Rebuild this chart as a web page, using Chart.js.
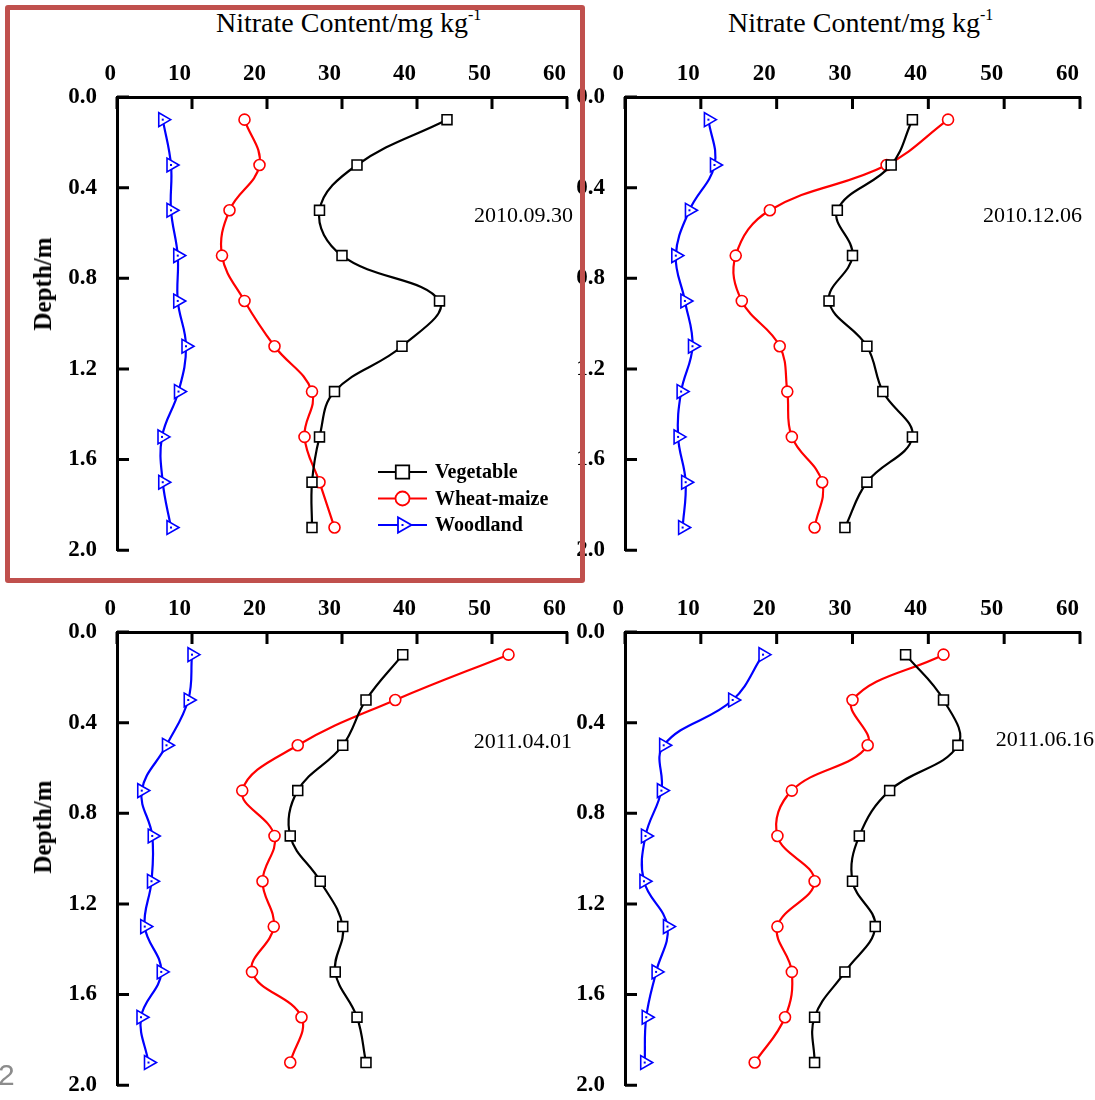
<!DOCTYPE html>
<html>
<head>
<meta charset="utf-8">
<script src="https://cdn.jsdelivr.net/npm/chart.js@4.4.1/dist/chart.umd.min.js"></script>
<style>
  html, body { margin: 0; padding: 0; background: #fff; overflow: hidden; }
  #page { position: relative; width: 1095px; height: 1100px; overflow: hidden; font-family: "Liberation Serif", "Times New Roman", serif; color: #000; }
  canvas { position: absolute; }
  .title { position: absolute; font-size: 28px; line-height: 28px; white-space: nowrap; }
  .title sup { font-size: 16px; vertical-align: 12px; line-height: 0; }
  .date { position: absolute; font-size: 22px; line-height: 22px; white-space: nowrap; text-align: right; }
  .ylab { position: absolute; font-size: 25px; font-weight: bold; white-space: nowrap; transform: translate(-50%, -50%) rotate(-90deg); }
  #frame { position: absolute; left: 5px; top: 5px; width: 570px; height: 568px; border: 5px solid #c0504d; border-radius: 3px; pointer-events: none; }
  #pageNo { position: absolute; left: -2px; top: 1060px; font-family: "Liberation Sans", Arial, sans-serif; font-size: 30px; line-height: 30px; color: #8c8c8c; }
</style>
</head>
<body>
<div id="page">
  <canvas id="p1" width="582" height="537" style="left:0px;top:47px"></canvas>
  <canvas id="p2" width="587" height="537" style="left:508px;top:47px"></canvas>
  <canvas id="p3" width="582" height="537" style="left:0px;top:582px"></canvas>
  <canvas id="p4" width="587" height="537" style="left:508px;top:582px"></canvas>

  <div class="title" style="left:216px;top:9px">Nitrate Content/mg kg<sup>-1</sup></div>
  <div class="title" style="left:728px;top:9px">Nitrate Content/mg kg<sup>-1</sup></div>

  <div class="ylab" style="left:43px;top:284px">Depth/m</div>
  <div class="ylab" style="left:43px;top:827px">Depth/m</div>

  <div class="date" id="d1" style="right:522px;top:204px"></div>
  <div class="date" id="d2" style="right:13px;top:204px"></div>
  <div class="date" id="d3" style="right:523px;top:730px"></div>
  <div class="date" id="d4" style="right:1px;top:728px"></div>

  <div id="frame"></div>
  <div id="pageNo">2</div>
</div>

<script>
// depth of each sample (m) and axis ticks
const depths = [0.1, 0.3, 0.5, 0.7, 0.9, 1.1, 1.3, 1.5, 1.7, 1.9];
const depthTicks = [0, 0.4, 0.8, 1.2, 1.6, 2.0];
const contentTicks = [0, 10, 20, 30, 40, 50, 60];
const landUses = ['Vegetable', 'Wheat-maize', 'Woodland'];
const dates = ['2010.09.30', '2010.12.06', '2011.04.01', '2011.06.16'];

// nitrate content, mg/kg
const veg1 = [44, 32, 27, 30, 43, 38, 29, 27, 26, 26];
const wheat1 = [17, 19, 15, 14, 17, 21, 26, 25, 27, 29];
const wood1 = [6.1, 7.2, 7.2, 8.1, 8.1, 9.2, 8.2, 6.0, 6.1, 7.2];

const veg2 = [37.9, 35.1, 28.0, 30.0, 26.9, 31.9, 34.0, 37.9, 31.9, 29.0];
const wheat2 = [42.6, 34.5, 19.1, 14.6, 15.4, 20.4, 21.4, 22.0, 26.0, 25.0];
const wood2 = [11.0, 11.8, 8.5, 6.7, 7.9, 8.9, 7.4, 7.0, 8.0, 7.6];

const veg3 = [38.1, 33.2, 30.1, 24.1, 23.1, 27.1, 30.1, 29.1, 32.0, 33.2];
const wheat3 = [52.2, 37.1, 24.1, 16.7, 21.0, 19.4, 20.9, 18.0, 24.6, 23.1];
const wood3 = [10.0, 9.5, 6.6, 3.3, 4.7, 4.6, 3.7, 5.9, 3.2, 4.2];

const veg4 = [37.0, 42.0, 43.9, 34.9, 30.9, 30.0, 33.0, 29.0, 25.0, 25.0];
const wheat4 = [42.0, 30.0, 32.0, 22.0, 20.1, 25.0, 20.1, 22.0, 21.1, 17.1];
const wood4 = [18.2, 14.2, 5.1, 4.8, 2.7, 2.5, 5.6, 4.1, 2.8, 2.6];

const serif = '"Liberation Serif", "Times New Roman", serif';
const colors = ['#000000', '#ff0000', '#0000ff'];
const styles = ['rect', 'circle', 'triangle'];
const radii = [7, 5.5, 8];
const rotations = [0, 0, 90];

// ticks pointing into the plot area
const innerTicks = {
    id: 'innerTicks',
    afterDraw(chart) {
        const {ctx, chartArea, scales} = chart;
        ctx.save();
        ctx.strokeStyle = '#000';
        ctx.lineWidth = 3;
        ctx.beginPath();
        scales.x.ticks.forEach((t, i) => {
            const p = scales.x.getPixelForTick(i);
            ctx.moveTo(p, chartArea.top);
            ctx.lineTo(p, chartArea.top + 12);
        });
        scales.y.ticks.forEach((t, i) => {
            const p = scales.y.getPixelForTick(i);
            ctx.moveTo(chartArea.left, p);
            ctx.lineTo(chartArea.left + 12, p);
        });
        ctx.stroke();
        ctx.restore();
    }
};

// small dot inside each triangle marker
const triangleDots = {
    id: 'triangleDots',
    afterDatasetsDraw(chart) {
        const {ctx} = chart;
        ctx.save();
        chart.data.datasets.forEach((ds, i) => {
            if (ds.pointStyle !== 'triangle') return;
            ctx.fillStyle = ds.borderColor;
            chart.getDatasetMeta(i).data.forEach(pt => {
                ctx.fillRect(pt.x - 1, pt.y - 1, 2, 2);
            });
        });
        ctx.restore();
    }
};

// legend with line + marker, like the original
const lineLegend = {
    id: 'lineLegend',
    afterDatasetsDraw(chart, args, opts) {
        if (!opts.show) return;
        const {ctx, chartArea} = chart;
        const x0 = chartArea.left + opts.left;
        ctx.save();
        chart.data.datasets.forEach((ds, i) => {
            const y = chartArea.top + opts.top + i * opts.gap;
            const cx = x0 + opts.len / 2;
            ctx.strokeStyle = ds.borderColor;
            ctx.lineWidth = 2;
            ctx.beginPath();
            ctx.moveTo(x0, y);
            ctx.lineTo(x0 + opts.len, y);
            ctx.stroke();
            ctx.fillStyle = '#fff';
            ctx.lineWidth = 1.8;
            Chart.helpers.drawPoint(ctx, {
                pointStyle: ds.pointStyle,
                rotation: ds.pointRotation,
                radius: opts.radii[i],
                borderWidth: 1.8
            }, cx, y);
            if (ds.pointStyle === 'triangle') {
                ctx.fillStyle = ds.borderColor;
                ctx.fillRect(cx - 1, y - 1, 2, 2);
            }
            ctx.fillStyle = '#000';
            ctx.font = 'bold 20px ' + serif;
            ctx.textBaseline = 'middle';
            ctx.fillText(ds.label, x0 + opts.len + 8, y + 1);
        });
        ctx.restore();
    }
};

function makePanel(id, series, showLegend) {
    const datasets = series.map((vals, i) => ({
        label: landUses[i],
        data: vals.map((v, k) => ({x: v, y: depths[k]})),
        showLine: true,
        borderColor: colors[i],
        borderWidth: 2.2,
        tension: 0.4,
        pointStyle: styles[i],
        pointRadius: radii[i],
        pointRotation: rotations[i],
        pointBackgroundColor: '#fff',
        pointBorderColor: colors[i],
        pointBorderWidth: 1.6
    }));

    return new Chart(document.getElementById(id), {
        type: 'scatter',
        data: {datasets},
        options: {
            responsive: false,
            animation: false,
            layout: {padding: {top: 0, left: 0, right: 15, bottom: 16}},
            plugins: {
                legend: {display: false},
                tooltip: {enabled: false},
                lineLegend: {show: showLegend, left: 261, top: 375, gap: 26.5, len: 49, radii: [9.5, 7, 9]}
            },
            scales: {
                x: {
                    type: 'linear',
                    position: 'top',
                    min: contentTicks[0],
                    max: contentTicks[contentTicks.length - 1],
                    afterFit: s => { s.height = 50; },
                    grid: {display: false, drawTicks: false},
                    border: {display: true, width: 3, color: '#000'},
                    ticks: {
                        stepSize: contentTicks[1] - contentTicks[0],
                        align: 'end',
                        labelOffset: -1,
                        padding: 9,
                        color: '#000',
                        font: {family: serif, size: 23, weight: 'bold'}
                    }
                },
                y: {
                    type: 'linear',
                    reverse: true,
                    min: depthTicks[0],
                    max: depthTicks[depthTicks.length - 1],
                    afterFit: s => { s.width = 117; },
                    grid: {display: false, drawTicks: false},
                    border: {display: true, width: 3, color: '#000'},
                    ticks: {
                        stepSize: depthTicks[1] - depthTicks[0],
                        padding: 20,
                        color: '#000',
                        font: {family: serif, size: 23, weight: 'bold'},
                        callback: v => Number(v).toFixed(1)
                    }
                }
            }
        },
        plugins: [innerTicks, triangleDots, lineLegend]
    });
}

document.addEventListener('DOMContentLoaded', () => {
    makePanel('p1', [veg1, wheat1, wood1], true);
    makePanel('p2', [veg2, wheat2, wood2], false);
    makePanel('p3', [veg3, wheat3, wood3], false);
    makePanel('p4', [veg4, wheat4, wood4], false);
    dates.forEach((d, i) => { document.getElementById('d' + (i + 1)).textContent = d; });
});
</script>
</body>
</html>
